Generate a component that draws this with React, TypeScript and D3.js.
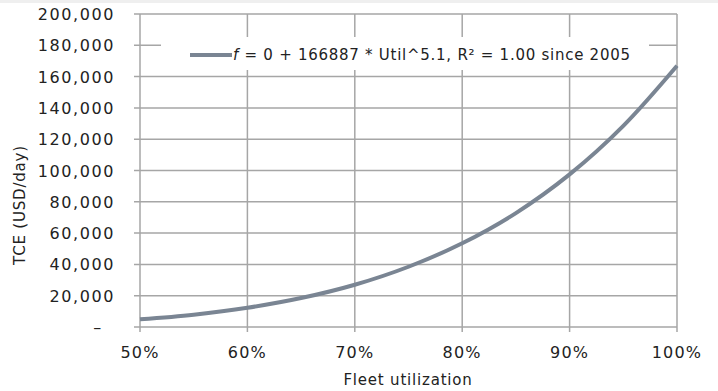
import React from "react";
import * as d3 from "d3";

// Fleet utilization (%) and time-charter-equivalent earnings (USD/day)
const utilization = [50, 55, 60, 65, 70, 75, 80, 85, 90, 95, 100];
const tce = [4900, 7900, 12300, 18500, 27000, 38500, 53500, 72800, 97500, 128500, 166900];
const xTicks = [50, 60, 70, 80, 90, 100];
const yTicks = [0, 20000, 40000, 60000, 80000, 100000, 120000, 140000, 160000, 180000, 200000];
const legendLabel = "f = 0 + 166887 * Util^5.1, R² = 1.00 since 2005";
const xTitle = "Fleet utilization";
const yTitle = "TCE (USD/day)";

const W = 718;
const H = 391;
const FONT = "'DejaVu Sans', sans-serif";
const GRID = "#a6a6a6";
const LINE = "#7a8593";

export default function App() {
  const x = d3.scaleLinear().domain([50, 100]).range([140, 677]);
  const y = d3.scaleLinear().domain([0, 200000]).range([327, 14]);
  const fmt = d3.format(",");
  const line = d3
    .line<number>()
    .x((_, i) => x(utilization[i]))
    .y((d) => y(d))
    .curve(d3.curveCatmullRom.alpha(0.5));

  return (
    <svg
      width={W}
      height={H}
      style={{ position: "absolute", left: 0, top: 0, background: "#fff" }}
    >
      <rect x={0} y={0} width={W} height={3} fill="#efefef" />
      {/* horizontal gridlines with left tick stubs */}
      {yTicks.map((t) => (
        <line
          key={"h" + t}
          x1={134}
          x2={677}
          y1={y(t)}
          y2={y(t)}
          stroke={GRID}
          strokeWidth={1.5}
        />
      ))}
      {/* vertical gridlines with bottom tick stubs */}
      {xTicks.map((t) => (
        <line
          key={"v" + t}
          x1={x(t)}
          x2={x(t)}
          y1={14}
          y2={332}
          stroke={GRID}
          strokeWidth={1.5}
        />
      ))}
      {/* y tick labels */}
      {yTicks.map((t) => (
        <text
          key={"yl" + t}
          x={t === 0 ? 98 : 115}
          y={y(t) + 6}
          textAnchor={t === 0 ? "middle" : "end"}
          fontFamily={FONT}
          fontSize={16}
          letterSpacing={1.6}
          fill="#222"
        >
          {t === 0 ? "–" : fmt(t)}
        </text>
      ))}
      {/* x tick labels */}
      {xTicks.map((t) => (
        <text
          key={"xl" + t}
          x={x(t)}
          y={358}
          textAnchor="middle"
          fontFamily={FONT}
          fontSize={16}
          letterSpacing={1.2}
          fill="#222"
        >
          {t + "%"}
        </text>
      ))}
      <text
        x={408}
        y={385}
        textAnchor="middle"
        fontFamily={FONT}
        fontSize={15}
        letterSpacing={0.8}
        fill="#222"
      >
        {xTitle}
      </text>
      <text
        transform="translate(25,205) rotate(-90)"
        textAnchor="middle"
        fontFamily={FONT}
        fontSize={15}
        letterSpacing={0.8}
        fill="#222"
      >
        {yTitle}
      </text>
      {/* fitted curve */}
      <path d={line(tce) || ""} fill="none" stroke={LINE} strokeWidth={4} />
      {/* legend */}
      <rect x={161} y={37} width={488} height={33} fill="#fff" />
      <line x1={190} x2={232} y1={55} y2={55} stroke={LINE} strokeWidth={4} />
      <text
        x={233}
        y={60}
        fontFamily={FONT}
        fontSize={15}
        textLength={397}
        lengthAdjust="spacing"
        fill="#222"
      >
        <tspan fontStyle="italic">f</tspan>
        {legendLabel.slice(1)}
      </text>
    </svg>
  );
}
